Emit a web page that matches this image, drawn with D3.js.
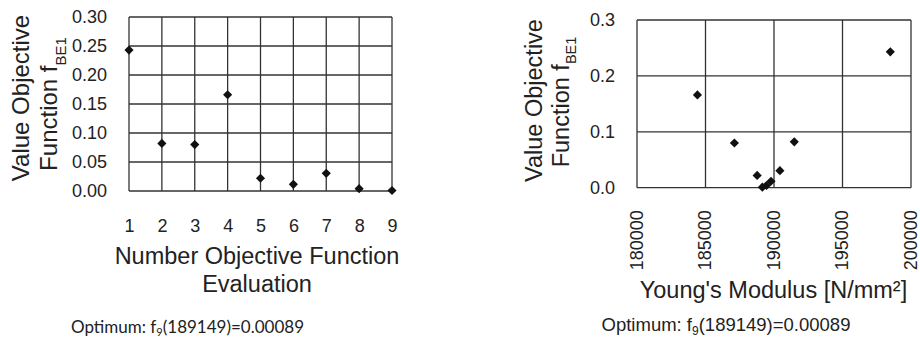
<!DOCTYPE html>
<html>
<head>
<meta charset="utf-8">
<script src="https://cdn.jsdelivr.net/npm/d3@7"></script>
<style>
  html, body { margin: 0; padding: 0; background: #fff; }
  svg { display: block; }
  text { fill: #222; }
</style>
</head>
<body>
<svg id="chart" width="920" height="338"></svg>
<script>
// Optimisation run: objective value per evaluation and the Young's modulus tried
const evaluations = [1, 2, 3, 4, 5, 6, 7, 8, 9];
const objectiveValues = [0.243, 0.082, 0.080, 0.166, 0.022, 0.0115, 0.0305, 0.004, 0.00089];
const youngsModulus = [198490, 191480, 187110, 184410, 188770, 189780, 190430, 189450, 189149];

const leftYTicks = [0, 0.05, 0.10, 0.15, 0.20, 0.25, 0.30];
const rightYTicks = [0, 0.1, 0.2, 0.3];
const rightXTicks = [180000, 185000, 190000, 195000, 200000];

const optimumLabel = { prefix: "Optimum: f", sub: "9", suffix: "(189149)=0.00089" };

const svg = d3.select("#chart");
const FONT = "'Liberation Sans', Arial, sans-serif";
const GRID = "#333";

// diamond marker: a square turned by 45 degrees
const diamond = d3.symbol().type(d3.symbolSquare).size(42);

function drawGrid(g, x, y, xs, ys) {
  g.append("g").selectAll("line").data(xs).join("line")
    .attr("x1", d => x(d)).attr("x2", d => x(d))
    .attr("y1", y.range()[0]).attr("y2", y.range()[1])
    .attr("stroke", GRID).attr("stroke-width", 1.3);
  g.append("g").selectAll("line").data(ys).join("line")
    .attr("x1", x.range()[0]).attr("x2", x.range()[1])
    .attr("y1", d => y(d)).attr("y2", d => y(d))
    .attr("stroke", GRID).attr("stroke-width", 1.3);
}

function styleAxis(sel, size) {
  sel.select(".domain").remove();
  sel.selectAll(".tick line").remove();
  sel.selectAll("text").attr("font-family", FONT).attr("font-size", size).attr("fill", "#222");
}

function yTitle(g, cfg) {
  g.append("text")
    .attr("transform", `translate(${cfg.x1},${cfg.cy1}) rotate(-90)`)
    .attr("text-anchor", "middle")
    .attr("font-family", FONT).attr("font-size", cfg.size)
    .text("Value Objective");
  const t = g.append("text")
    .attr("transform", `translate(${cfg.x2},${cfg.cy2}) rotate(-90)`)
    .attr("text-anchor", "middle")
    .attr("font-family", FONT).attr("font-size", cfg.size);
  t.append("tspan").text("Function f");
  t.append("tspan").attr("dy", cfg.subShift).attr("font-size", cfg.subSize).text("BE1");
}

function optimum(g, cx, baseline, family, size) {
  const t = g.append("text")
    .attr("x", cx).attr("y", baseline)
    .attr("text-anchor", "middle")
    .attr("font-family", family).attr("font-size", size);
  t.append("tspan").text(optimumLabel.prefix);
  t.append("tspan").attr("dy", size * 0.22).attr("font-size", size * 0.65).text(optimumLabel.sub);
  t.append("tspan").attr("dy", -size * 0.22).text(optimumLabel.suffix);
}

// ---------- left panel: objective value per evaluation ----------
{
  const g = svg.append("g");
  const x = d3.scaleLinear().domain([1, 9]).range([129, 392]);
  const y = d3.scaleLinear().domain([0, 0.3]).range([191, 17]);

  drawGrid(g, x, y, evaluations, leftYTicks);

  g.append("g").attr("transform", `translate(${x.range()[0]},0)`)
    .call(d3.axisLeft(y).tickValues(leftYTicks).tickFormat(d3.format(".2f")).tickSize(0).tickPadding(22))
    .call(s => styleAxis(s, 18));

  g.append("g").attr("transform", `translate(0,${y.range()[0]})`)
    .call(d3.axisBottom(x).tickValues(evaluations).tickFormat(d3.format("d")).tickSize(0).tickPadding(28))
    .call(s => styleAxis(s, 18));

  g.append("g").selectAll("path").data(evaluations).join("path")
    .attr("d", diamond)
    .attr("transform", (d, i) => `translate(${x(d)},${y(objectiveValues[i])}) rotate(45)`)
    .attr("fill", "#111");

  yTitle(g, { x1: 29, cy1: 98, x2: 56.5, cy2: 104, size: 24, subSize: 15, subShift: 9 });

  const xt = g.append("text").attr("text-anchor", "middle")
    .attr("font-family", FONT).attr("font-size", 23.5);
  xt.append("tspan").attr("x", 257).attr("y", 264).text("Number Objective Function");
  xt.append("tspan").attr("x", 257).attr("y", 292).text("Evaluation");

  optimum(g, 187.5, 332.5, "Lato, 'Open Sans', sans-serif", 17);
}

// ---------- right panel: objective value against Young's modulus ----------
{
  const g = svg.append("g");
  const x = d3.scaleLinear().domain([180000, 200000]).range([637, 911]);
  const y = d3.scaleLinear().domain([0, 0.3]).range([187.7, 20]);

  drawGrid(g, x, y, rightXTicks, rightYTicks);

  g.append("g").attr("transform", `translate(${x.range()[0]},0)`)
    .call(d3.axisLeft(y).tickValues(rightYTicks).tickFormat(d3.format(".1f")).tickSize(0).tickPadding(22))
    .call(s => styleAxis(s, 18));

  g.append("g").attr("transform", `translate(0,${y.range()[0]})`)
    .call(d3.axisBottom(x).tickValues(rightXTicks).tickFormat(d3.format("d")).tickSize(0))
    .call(s => styleAxis(s, 18))
    .call(s => s.selectAll("text")
      .attr("transform", "rotate(-90)")
      .attr("x", -22.5).attr("y", 0).attr("dy", "0.3em")
      .attr("text-anchor", "end"));

  g.append("g").selectAll("path").data(youngsModulus).join("path")
    .attr("d", diamond)
    .attr("transform", (d, i) => `translate(${x(d)},${y(objectiveValues[i])}) rotate(45)`)
    .attr("fill", "#111");

  yTitle(g, { x1: 542, cy1: 100.5, x2: 568.5, cy2: 102, size: 23.5, subSize: 14.5, subShift: 7.5 });

  g.append("text").attr("x", 773.5).attr("y", 298)
    .attr("text-anchor", "middle")
    .attr("font-family", FONT).attr("font-size", 23.5)
    .text("Young's Modulus [N/mm²]");

  optimum(g, 726, 330.5, FONT, 18.5);
}
</script>
</body>
</html>
